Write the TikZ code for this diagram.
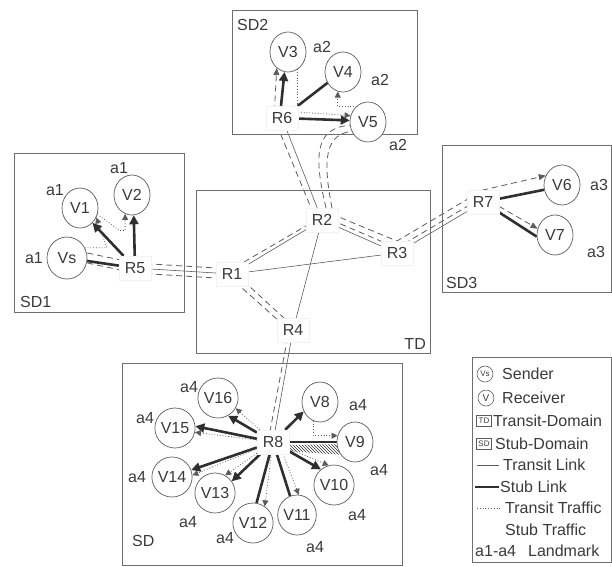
\documentclass[tikz,border=0pt]{standalone}
\usepackage{fontspec}
\setmainfont{Liberation Sans}
\usetikzlibrary{arrows.meta, backgrounds, patterns, shapes.geometric}
\definecolor{inkDark}{HTML}{2F2F2F}
\definecolor{inkMid}{HTML}{5C5C5C}
\definecolor{boxGray}{HTML}{6E6E6E}
\definecolor{textGray}{HTML}{3A3A3A}
\tikzset{
  lbl/.style={text=textGray, font=\fontsize{16}{18}\selectfont, inner sep=0pt},
  domainbox/.style={draw=boxGray, line width=0.8pt},
  recv/.style={ellipse, draw=inkMid, line width=0.7pt, fill=white, minimum width=36pt, minimum height=40pt, inner sep=0pt, lbl},
  router/.style={rectangle, fill=white, draw=gray!10, minimum width=32pt, minimum height=24pt, inner sep=1pt, lbl},
  legicon/.style={draw=inkMid, line width=0.6pt, inner sep=0pt, text=textGray, font=\fontsize{8}{9}\selectfont},
  transitlink/.style={draw=inkMid, line width=0.6pt},
  stublink/.style={draw=inkDark, line width=2.6pt},
  stubarr/.style={stublink, -{Triangle[length=9pt,width=9pt]}},
  transittraffic/.style={draw=inkMid, line width=0.8pt, dotted},
  dotarr/.style={transittraffic, -{Triangle[length=6pt,width=6pt]}},
  stubtraffic/.style={draw=inkMid, line width=0.8pt, dash pattern=on 6pt off 4pt},
  dasharr/.style={stubtraffic, -{Triangle[length=7pt,width=6pt]}},
}

\begin{document}
\begin{tikzpicture}[x=1pt, y=-1pt]
  \useasboundingbox (0,0) rectangle (612,566);
  % domains
  \draw[domainbox] (14,153) rectangle (184,312);
  \draw[domainbox] (232,10) rectangle (417,134);
  \draw[domainbox] (442,145) rectangle (611,292);
  \draw[domainbox] (196,190) rectangle (430,353);
  \draw[domainbox] (122,363) rectangle (402,565);
  \draw[domainbox] (472,357) rectangle (611,562);
  \node[lbl, anchor=west] (sd1) at (20,302) {SD1};
  \node[lbl, anchor=west] (sd2) at (237,25) {SD2};
  \node[lbl, anchor=west] (sd3) at (446,283) {SD3};
  \node[lbl, anchor=east] (td) at (426,344) {TD};
  \node[lbl, anchor=west] (sd) at (132,541) {SD};

  % routers
  \node[router] (R1) at (232,274) {R1};
  \node[router] (R2) at (322,220) {R2};
  \node[router] (R3) at (397,253) {R3};
  \node[router] (R4) at (293,330) {R4};
  \node[router] (R5) at (135,268) {R5};
  \node[router] (R6) at (282,118) {R6};
  \node[router] (R7) at (483,202) {R7};
  \node[router] (R8) at (273,442) {R8};

  % receivers
  \node[recv, minimum width=40pt, minimum height=42pt] (Vs) at (67,258) {Vs};
  \node[recv] (V1) at (80,208) {V1};
  \node[recv] (V2) at (132,195) {V2};
  \node[recv] (V3) at (288,52) {V3};
  \node[recv] (V4) at (343,72) {V4};
  \node[recv] (V5) at (368,122) {V5};
  \node[recv] (V6) at (562,185) {V6};
  \node[recv] (V7) at (555,235) {V7};
  \node[recv] (V8) at (320,402) {V8};
  \node[recv] (V9) at (355,442) {V9};
  \node[recv] (V10) at (334,485) {V10};
  \node[recv] (V11) at (297,515) {V11};
  \node[recv] (V12) at (253,523) {V12};
  \node[recv] (V13) at (215,493) {V13};
  \node[recv] (V14) at (172,477) {V14};
  \node[recv] (V15) at (175,428) {V15};
  \node[recv] (V16) at (218,398) {V16};

  % landmarks
  \node[lbl] (lmVs) at (34,258) {a1};
  \node[lbl] (lmV1) at (55,190) {a1};
  \node[lbl] (lmV2) at (119,168) {a1};
  \node[lbl] (lmV3) at (322,47) {a2};
  \node[lbl] (lmV4) at (380,80) {a2};
  \node[lbl] (lmV5) at (398,145) {a2};
  \node[lbl] (lmV6) at (599,185) {a3};
  \node[lbl] (lmV7) at (596,252) {a3};
  \node[lbl] (lmV8) at (358,405) {a4};
  \node[lbl] (lmV9) at (379,470) {a4};
  \node[lbl] (lmV10) at (357,515) {a4};
  \node[lbl] (lmV11) at (315,547) {a4};
  \node[lbl] (lmV12) at (225,538) {a4};
  \node[lbl] (lmV13) at (188,522) {a4};
  \node[lbl] (lmV14) at (137,477) {a4};
  \node[lbl] (lmV15) at (145,418) {a4};
  \node[lbl] (lmV16) at (189,387) {a4};

  \begin{scope}[on background layer]
    % transit links
    \draw[transitlink] (R1) -- (R2); \draw[transitlink] (R1) -- (R3); \draw[transitlink] (R2) -- (R3);
    \draw[transitlink] (R2) -- (R4); \draw[transitlink] (R5) -- (R1); \draw[transitlink] (R2) -- (R6);
    \draw[transitlink] (R3) -- (R7); \draw[transitlink] (R4) -- (R8);
    % stub traffic
    \draw[dasharr] ([yshift=5]Vs.east) -- ([yshift=5]R5.center) -- ([yshift=5]R1.center)
      -- ([xshift=-6]R2.center) -- ([xshift=-8]R6.center) -- (V3.235);
    \draw[stubtraffic] ([yshift=-5]Vs.east) -- ([yshift=-5]R5.center) -- ([yshift=-5]R1.center)
      -- ([xshift=-4]R4.center) -- ([xshift=-5]R8.center);
    \draw[stubtraffic] ([xshift=4]R1.center) -- ([xshift=4]R4.center);
    \draw[dasharr] ([yshift=10]R2.center) -- ([yshift=12]R3.center) -- ([yshift=12]R7.center) -- (V6.150);
    \draw[dasharr] ([yshift=4]R2.center) -- ([yshift=5]R3.center) -- ([yshift=5]R7.center) -- (V7.160);
    \draw[stubtraffic] ([xshift=4]R2.north) .. controls (312,150) and (318,128) .. (V5.190);
    \draw[stubtraffic] ([xshift=10]R2.north) .. controls (322,158) and (326,134) .. (V5.210);
    % SD1
    \draw[stublink] (Vs) -- (R5);
    \draw[stubarr] (R5) -- (V1.-50);
    \draw[stubarr] (R5) -- (V2.-85);
    \draw[dotarr] (Vs.30) -- ++(22,0) -- (V1.-30);
    \draw[dotarr] (V1.-20) -- ++(22,16) -| (V2.-110);
    % SD2
    \draw[stubarr] ([xshift=-1]R6.north) -- (V3.-100);
    \draw[transittraffic] (V3.-60) |- (R6.north east);
    \draw[stublink] (R6) -- (V4.215);
    \draw[stubarr] (R6) -- (V5.175);
    \draw[dotarr] ([yshift=6]R6.east) -- (V5.160);
    \draw[dotarr] (V5.125) -| (V4.-105);
    % SD3
    \draw[stublink] (R7) -- (V6.195);
    \draw[stublink] (R7) -- (V7.185);
    % SD
    \draw[stubarr] (R8) -- (V8.210);
    \draw[dotarr] (V8.-110) |- (V9.160);
    \draw[stublink] (R8) -- (V9.180);
    \fill[pattern=north west lines, pattern color=inkDark] ([yshift=-3]R8.east) -- (V9.187) -- (V9.222) -- ([yshift=-9]R8.east) -- cycle;
    \draw[stubarr] (R8) -- (V10.130);
    \draw[dotarr] (R8) -- (V10.105);
    \draw[stublink] (R8) -- (V11.110);
    \draw[dotarr] ([xshift=10]R8.south) -- (V11.85);
    \draw[stublink] (R8) -- (V12.80);
    \draw[dotarr] (R8) -- (V12.55);
    \draw[stubarr] (R8) -- (V13.35);
    \draw[dotarr] (R8) -- (V13.60);
    \draw[stubarr] (R8) -- (V14.20);
    \draw[dotarr] (R8) -- (V14.5);
    \draw[stubarr] (R8) -- (V15.5);
    \draw[dotarr] (R8) -- (V15.-12);
    \draw[stubarr] (R8) -- (V16.-60);
    \draw[dotarr] (R8) -- (V16.-30);
  \end{scope}

  % legend
  \node[legicon, circle, minimum size=16pt] (lgVs) at (485,374) {Vs};
  \node[lbl, anchor=west] (lgSender) at (502,374) {Sender};
  \node[legicon, circle, minimum size=16pt, font=\fontsize{10}{11}\selectfont] (lgV) at (486,398) {V};
  \node[lbl, anchor=west] (lgReceiver) at (502,398) {Receiver};
  \node[legicon, minimum width=15pt, minimum height=11pt] (lgTD) at (484,421) {TD};
  \node[lbl, anchor=west] (lgTDomain) at (493,421) {Transit-Domain};
  \node[legicon, minimum width=15pt, minimum height=11pt] (lgSD) at (484,444) {SD};
  \node[lbl, anchor=west] (lgSDomain) at (495,444) {Stub-Domain};
  \node[lbl, anchor=west] (lgTLink) at (503,465) {Transit Link};
  \draw[transitlink] ([xshift=-26]lgTLink.west) -- ([xshift=-4]lgTLink.west);
  \node[lbl, anchor=west] (lgSLink) at (500,487) {Stub Link};
  \draw[stublink] ([xshift=-25]lgSLink.west) -- ([xshift=-1]lgSLink.west);
  \node[lbl, anchor=west] (lgTTraffic) at (505,508) {Transit Traffic};
  \draw[transittraffic] ([xshift=-28]lgTTraffic.west) -- ([xshift=-4]lgTTraffic.west);
  \node[lbl, anchor=west] (lgSTraffic) at (505,530) {Stub Traffic};
  \node[lbl, anchor=west] (lgLandmark) at (475,551) {a1-a4\hspace{12pt}Landmark};
\end{tikzpicture}
\end{document}
